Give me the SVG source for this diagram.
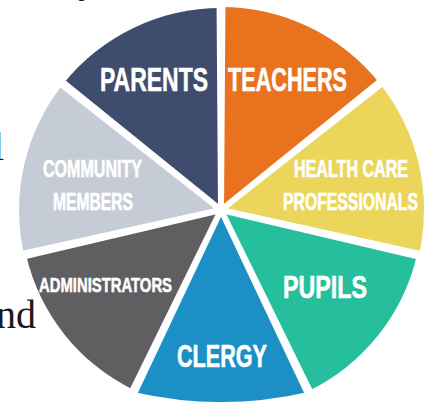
<svg xmlns="http://www.w3.org/2000/svg" width="430" height="406" viewBox="0 0 430 406">
  <style>
    .lbl { font-family: "Liberation Sans Narrow", "Liberation Sans", Arial, sans-serif; font-weight: bold; fill: #ffffff; stroke: #ffffff; stroke-width: 0.6; }
    .body { font-family: "Liberation Serif", "Times New Roman", serif; fill: #1a1a1a; font-size: 40px; }
    .gap { fill: #ffffff; stroke: none; }
  </style>
  <rect width="430" height="406" fill="#ffffff"/>

  <!-- running text that sits beside the chart -->
  <text class="body" x="78" y="-8">y</text>
  <text class="body" x="-7" y="160">l</text>
  <text class="body" x="36" y="328" text-anchor="end">nd</text>

  <!-- seven equal wedges around (221,210) -->
  <g id="teachers">
    <path d="M221,210 L221,7 A203,203 0 0 1 379.7,83.4 Z" fill="#e8721e"/>
  </g>
  <g id="health-care">
    <path d="M221,210 L379.7,83.4 A203,203 0 0 1 418.9,255.2 Z" fill="#ebd55b"/>
  </g>
  <g id="pupils">
    <path d="M221,210 L417,254.7 A201,201 0 0 1 308.2,391.1 Z" fill="#25bf9d"/>
  </g>
  <g id="clergy">
    <path d="M221,210 L308.6,392 Q221,412 133.4,392 Z" fill="#1b8fc6"/>
  </g>
  <g id="administrators">
    <path d="M221,210 L134.2,390.2 A200,200 0 0 1 26,254.5 Z" fill="#5f5f61"/>
  </g>
  <g id="community-members">
    <path d="M221,210 L24.1,254.9 A202,202 0 0 1 63.1,84.1 Z" fill="#c6ccd6"/>
  </g>
  <g id="parents">
    <path d="M221,210 L63.1,84.1 A202,202 0 0 1 221,8 Z" fill="#3e4c6d"/>
  </g>

  <!-- white seams between the wedges, slightly narrower at the hub -->
  <g id="seams">
    <polygon class="gap" points="224,210 225.5,-5 216.5,-5 218,210"/>
    <polygon class="gap" points="222.87,212.35 391.9,79.4 386.3,72.4 219.13,207.65"/>
    <polygon class="gap" points="220.33,212.92 429.6,262.2 431.6,253.4 221.67,207.08"/>
    <polygon class="gap" points="218.3,211.3 310.2,405.7 318.4,401.8 223.7,208.7"/>
    <polygon class="gap" points="218.3,208.7 123.6,401.8 131.8,405.7 223.7,211.3"/>
    <polygon class="gap" points="220.33,207.08 10.4,253.4 12.4,262.2 221.67,212.92"/>
    <polygon class="gap" points="222.87,207.65 55.7,72.4 50.1,79.4 219.13,212.35"/>
  </g>

  <!-- wedge labels -->
  <g id="labels">
    <text class="lbl" x="100" y="91" font-size="33" textLength="108" lengthAdjust="spacingAndGlyphs">PARENTS</text>
    <text class="lbl" x="228" y="91" font-size="33" textLength="119" lengthAdjust="spacingAndGlyphs">TEACHERS</text>
    <text class="lbl" x="294" y="177" font-size="23" textLength="114" lengthAdjust="spacingAndGlyphs">HEALTH CARE</text>
    <text class="lbl" x="283" y="209.5" font-size="23" textLength="135" lengthAdjust="spacingAndGlyphs">PROFESSIONALS</text>
    <text class="lbl" x="283" y="298" font-size="32" textLength="84" lengthAdjust="spacingAndGlyphs">PUPILS</text>
    <text class="lbl" x="177" y="367" font-size="31" textLength="90" lengthAdjust="spacingAndGlyphs">CLERGY</text>
    <text class="lbl" x="39" y="292" font-size="21" textLength="133" lengthAdjust="spacingAndGlyphs">ADMINISTRATORS</text>
    <text class="lbl" x="43" y="177" font-size="23" textLength="99" lengthAdjust="spacingAndGlyphs">COMMUNITY</text>
    <text class="lbl" x="53" y="210" font-size="23" textLength="80" lengthAdjust="spacingAndGlyphs">MEMBERS</text>
  </g>
</svg>
